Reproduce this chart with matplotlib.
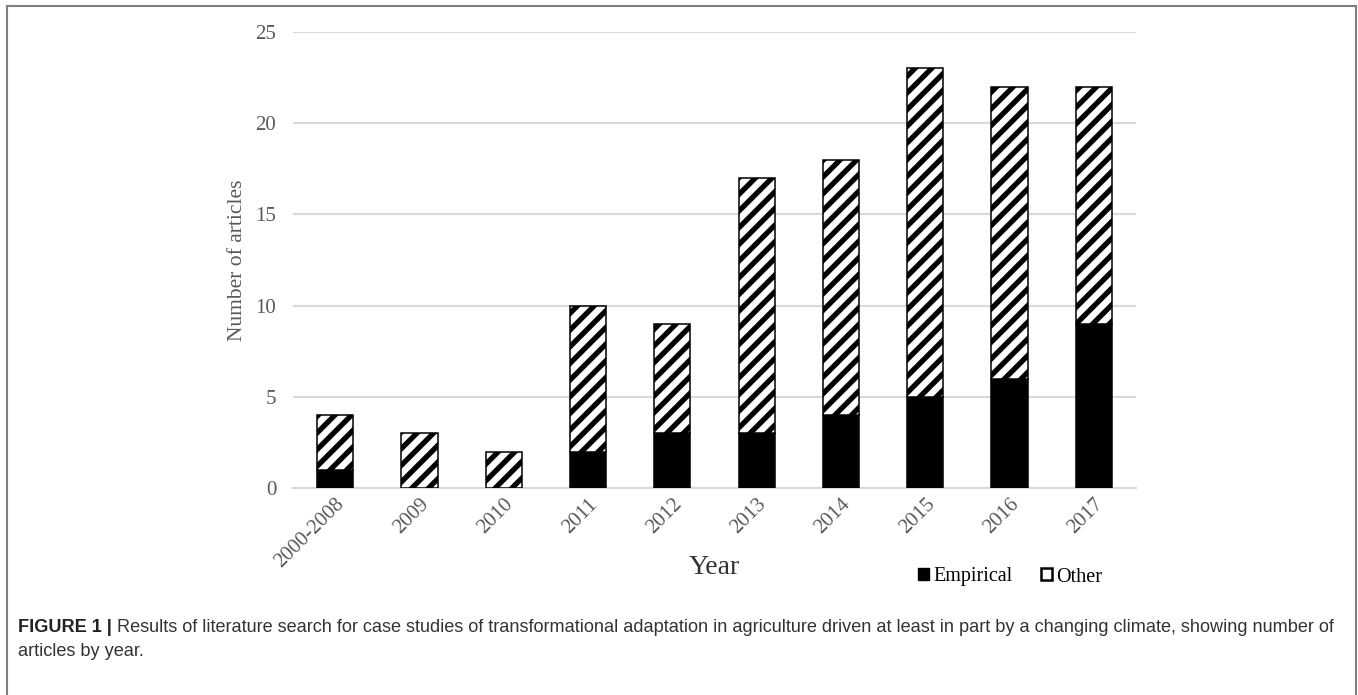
import matplotlib
matplotlib.use("Agg")
import matplotlib.pyplot as plt
from matplotlib.patches import Patch
from matplotlib.lines import Line2D

years = ["2000-2008", "2009", "2010", "2011", "2012", "2013", "2014", "2015", "2016", "2017"]
empirical = [1, 0, 0, 2, 3, 3, 4, 5, 6, 9]
other = [3, 3, 2, 8, 6, 14, 14, 18, 16, 13]
yticks = [0, 5, 10, 15, 20, 25]

plt.rcParams["hatch.linewidth"] = 3.8
plt.rcParams["hatch.color"] = "black"

serif = "Liberation Serif"
sans = "Liberation Sans"
tick_col = "#595959"

fig = plt.figure(figsize=(13.58, 6.95), dpi=100)
ax = fig.add_axes([293 / 1358, 1 - 488 / 695, 843 / 1358, 456 / 695])

x = range(len(years))
ax.bar(x, empirical, width=0.43, color="black", edgecolor="black", linewidth=1.1, zorder=3)
ax.bar(x, other, width=0.43, bottom=empirical, color="white", edgecolor="black",
       hatch="//", linewidth=1.1, zorder=3)

ax.set_xlim(-0.5, len(years) - 0.5)
ax.set_ylim(0, 25)
ax.set_yticks(yticks)
ax.yaxis.grid(True, color="#d9d9d9", linewidth=1.5, zorder=0)
for s in ["top", "right", "left"]:
    ax.spines[s].set_visible(False)
ax.spines["bottom"].set_color("#d9d9d9")
ax.spines["bottom"].set_linewidth(1.5)
ax.tick_params(length=0)
ax.tick_params(axis="y", pad=12)
ax.set_xticks(list(x))
ax.set_xticklabels(years, rotation=45, ha="right", rotation_mode="anchor")
for lab in ax.get_xticklabels() + ax.get_yticklabels():
    lab.set_fontfamily(serif)
    lab.set_fontsize(15)
    lab.set_color(tick_col)
ax.tick_params(axis="x", pad=5)

ax.set_ylabel("Number of articles", fontfamily=serif, fontsize=15.5, color=tick_col, labelpad=6)
fig.text(714 / 1358, 1 - 568 / 695, "Year", fontfamily=serif, fontsize=20,
         color="#333333", ha="center", va="center")

handles = [Patch(facecolor="black", edgecolor="black", label="Empirical"),
           Patch(facecolor="white", edgecolor="black", linewidth=1.8, label="Other")]
fig.legend(handles=handles, loc="center", bbox_to_anchor=(1010 / 1358, 1 - 577 / 695),
           ncol=2, frameon=False, handlelength=0.55, handleheight=0.55, handletextpad=0.2,
           columnspacing=1.4, prop={"family": serif, "size": 14.5})

# page frame around the figure
frame = dict(color="#7f7f7f", linewidth=1.5, transform=fig.transFigure)
fig.add_artist(Line2D([7 / 1358, 7 / 1358], [0, 1 - 6 / 695], **frame))
fig.add_artist(Line2D([1356 / 1358, 1356 / 1358], [0, 1 - 6 / 695], **frame))
fig.add_artist(Line2D([7 / 1358, 1356 / 1358], [1 - 6 / 695, 1 - 6 / 695], **frame))

cap = fig.text(18 / 1358, 1 - 627 / 695, "FIGURE 1 |", fontfamily=sans, fontweight="bold",
               fontsize=13.1, color="#222222", va="center")
ax.annotate("Results of literature search for case studies of transformational adaptation in "
            "agriculture driven at least in part by a changing climate, showing number of",
            xy=(1, 0.5), xycoords=cap, xytext=(4, 0), textcoords="offset points",
            fontfamily=sans, fontsize=13.1, color="#333333", va="center", annotation_clip=False)
fig.text(18 / 1358, 1 - 651 / 695, "articles by year.", fontfamily=sans, fontsize=13.1,
         color="#333333", va="center")

fig.savefig("out.png", dpi=100, facecolor="white")
